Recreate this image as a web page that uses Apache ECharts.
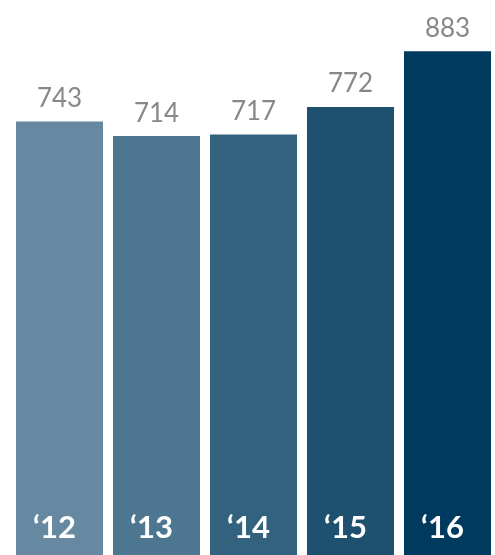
<!DOCTYPE html>
<html><head><meta charset="utf-8">
<script src="https://cdn.jsdelivr.net/npm/echarts@6/dist/echarts.min.js"></script>
<style>html,body{margin:0;padding:0;background:#fff}#c{width:495px;height:555px}</style>
</head><body><div id="c"></div>
<script>
const categories = ["\u201812", "\u201813", "\u201814", "\u201815", "\u201816"];
const values = [743, 714, 717, 772, 883];
const colors = ["#6689a1", "#4d7791", "#33627f", "#1e5070", "#003b5f"];

const chart = echarts.init(document.getElementById('c'), null, {renderer: 'canvas'});
chart.setOption({
  animation: false,
  grid: {left: 11, width: 485, top: 0, bottom: 0, outerBoundsMode: 'none', containLabel: false},
  xAxis: {
    type: 'category', data: categories, z: 10,
    axisLine: {show: false}, axisTick: {show: false},
    axisLabel: {inside: true, margin: 12, color: '#ffffff', fontSize: 31, fontWeight: 'bold', fontFamily: 'Lato', padding: [0, 10, 0, 0]}
  },
  yAxis: {type: 'value', min: -120, max: 985, show: false, splitLine: {show: false}},
  series: [{
    type: 'custom',
    data: values.map((v, i) => [i, v]),
    encode: {x: 0, y: 1},
    renderItem: function (params, api) {
      const idx = params.dataIndex;
      const v = api.value(1);
      const pt = api.coord([api.value(0), v]);
      const band = api.size([1, 0])[0];
      const w = band * 0.897;
      const cs = params.coordSys;
      const bottom = cs.y + cs.height;
      return {
        type: 'rect',
        shape: {x: pt[0] - w / 2, y: pt[1], width: w, height: bottom - pt[1]},
        style: {fill: colors[idx]},
        textContent: {style: {text: String(v), fill: '#888888', fontSize: 26, fontFamily: 'Lato'}},
        textConfig: {position: 'top', distance: 10}
      };
    }
  }]
});
</script></body></html>
